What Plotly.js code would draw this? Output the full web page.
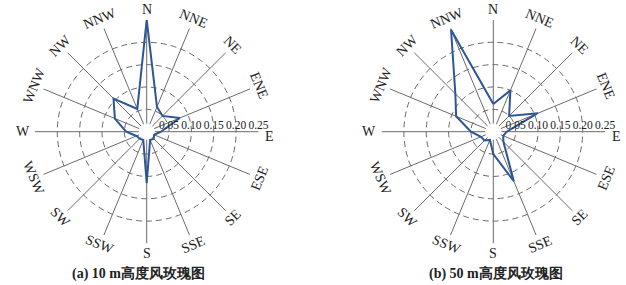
<!DOCTYPE html>
<html>
<head>
<meta charset="utf-8">
<script src="https://cdn.plot.ly/plotly-3.0.1.min.js"></script>
<style>html,body{margin:0;padding:0;background:#fff;}#chart{width:626px;height:285px;}</style>
</head>
<body>
<div id="chart"></div>
<script>
// Wind directions (clockwise from north)
const directions = ["N","NNE","NE","ENE","E","ESE","SE","SSE","S","SSW","SW","WSW","W","WNW","NW","NNW"];
const bearings = [0,22.5,45,67.5,90,112.5,135,157.5,180,202.5,225,247.5,270,292.5,315,337.5];
// Direction frequencies at 10 m height
const freq10m = [0.250,0.060,0.050,0.080,0.032,0.018,0.022,0.020,0.115,0.020,0.022,0.025,0.046,0.077,0.105,0.055];
// Direction frequencies at 50 m height
const freq50m = [0.062,0.100,0.050,0.108,0.030,0.024,0.032,0.120,0.050,0.020,0.028,0.030,0.050,0.090,0.120,0.247];
// Radial ticks
const radialTicks = [0.05,0.10,0.15,0.20,0.25];
const radialTickText = ["0.05","0.10","0.15","0.20","0.25"];
const titles = ["(a) 10 m高度风玫瑰图","(b) 50 m高度风玫瑰图"];

const W = 626, H = 285;
const centers = [[146.7,131.7],[493.3,131.7]];
const R = 112;
const serif = "Liberation Serif";
const lineBlue = "#2e5596";
const gridCol = "#6b6b6b";

const traces = [];
const annotations = [];
const layout = {
  width: W, height: H,
  margin: {l:0,r:0,t:0,b:0},
  paper_bgcolor: "#fff",
  showlegend: false,
  font: {family: serif},
  annotations: annotations
};

[freq10m, freq50m].forEach((vals, i) => {
  const sub = i === 0 ? "polar" : "polar2";
  // spokes
  directions.forEach(d => {
    traces.push({
      type: "scatterpolar", subplot: sub, mode: "lines",
      r: [0.018, 0.25], theta: [d, d],
      line: {color: gridCol, width: 1}, hoverinfo: "skip"
    });
  });
  // data polygon
  traces.push({
    type: "scatterpolar", subplot: sub, mode: "lines",
    r: vals.concat([vals[0]]), theta: directions.concat([directions[0]]),
    line: {color: lineBlue, width: 2}
  });

  const [cx, cy] = centers[i];
  layout[sub] = {
    domain: {x: [(cx - R) / W, (cx + R) / W], y: [1 - (cy + R) / H, 1 - (cy - R) / H]},
    bgcolor: "rgba(0,0,0,0)",
    radialaxis: {
      range: [0, 0.2505], tickvals: radialTicks, ticktext: radialTickText,
      angle: 0, side: "counterclockwise", showline: false, ticks: "", tickangle: 0,
      gridcolor: gridCol, griddash: "6px,4px", gridwidth: 1,
      tickfont: {family: serif, size: 11.5, color: "#222"}
    },
    angularaxis: {
      type: "category", categoryarray: directions, direction: "clockwise", rotation: 90,
      showgrid: false, showline: false, showticklabels: false, ticks: ""
    }
  };

  // direction labels
  const LR = 122;
  directions.forEach((d, k) => {
    const b = bearings[k];
    const rad = b * Math.PI / 180;
    let px = cx + LR * Math.sin(rad);
    let py = cy - LR * Math.cos(rad);
    let ang = 0;
    if (b > 0 && b < 90) ang = b;
    else if (b > 90 && b < 180) ang = b - 180;
    else if (b > 180 && b < 270) ang = b - 180;
    else if (b > 270) ang = b - 360;
    if (d === "E") { px = cx + 123; py = cy + 5; }
    if (d === "W") { px = cx - 124; }
    annotations.push({
      xref: "paper", yref: "paper", x: px / W, y: 1 - py / H,
      xanchor: "center", yanchor: "middle", showarrow: false,
      text: d, textangle: ang,
      font: {family: serif, size: 14, color: "#222"}
    });
  });
  // subplot title
  annotations.push({
    xref: "paper", yref: "paper", x: (i === 0 ? 138 : 496) / W, y: 1 - 273 / H,
    xanchor: "center", yanchor: "middle", showarrow: false,
    text: "<b>" + titles[i] + "</b>",
    font: {family: serif, size: 14, color: "#222"}
  });
});

Plotly.newPlot("chart", traces, layout, {staticPlot: true, displayModeBar: false});
</script>
</body>
</html>
